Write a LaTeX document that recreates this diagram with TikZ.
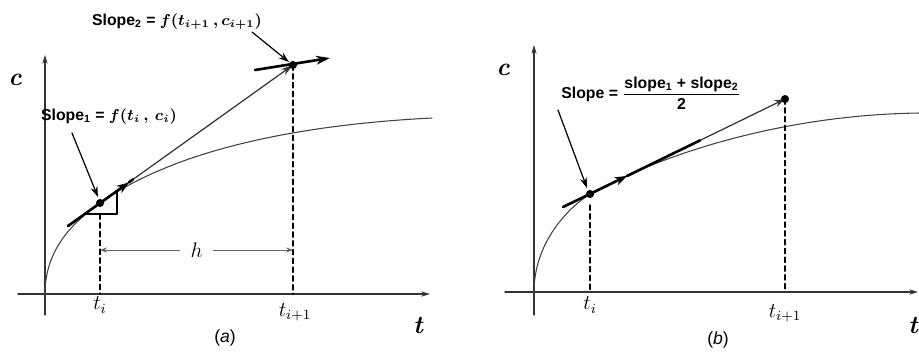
\documentclass[tikz,border=0pt]{standalone}
\usepackage{amsmath}
\usepackage{fontspec}
\setsansfont{Liberation Sans}
\usetikzlibrary{arrows.meta}
\tikzset{
  every picture/.style={line join=round, line cap=round, >=Stealth},
  axis/.style={line width=0.6pt, draw=black!80, -{Stealth[length=5pt,width=3pt]}},
  curve/.style={line width=0.6pt, draw=black!75},
  tangent/.style={line width=1.5pt},
  secant/.style={line width=0.7pt, draw=black!80},
  guide/.style={line width=0.8pt, dash pattern=on 3pt off 2pt},
  dimline/.style={line width=0.5pt, draw=black!60, {Stealth[length=4pt,width=3pt]}-{Stealth[length=4pt,width=3pt]}},
  leader/.style={line width=0.7pt, -{Stealth[length=6pt,width=4pt]}},
  axislabel/.style={font=\Large\bfseries\itshape},
  ticklabel/.style={font=\large},
  slopelabel/.style={font=\small\sffamily\bfseries\boldmath},
  caption/.style={font=\normalsize\sffamily},
}
\begin{document}
\begin{tikzpicture}[x=0.02cm, y=-0.02cm]
\useasboundingbox (0,0) rectangle (919,353);
% (a) slope at the start and at the predicted end point
\coordinate (Oa) at (45,294);
\coordinate (Pa) at (100,203);
\coordinate (Qa) at (293,65);
\draw[axis] (45,315) -- (45,55);
\draw[axis] (18,294) -- (430,294);
\draw[curve] (Oa) .. controls (45,250) and (72,223) .. (Pa) .. controls (180,146) and (312,124) .. (432,118);
\draw[guide] (100,214) -- (100,294);
\draw[guide] (Qa) -- (293,294);
\draw[dimline] (100,250) -- node[fill=white, inner xsep=6pt, ticklabel] (ha) {$h$} (293,250);
\draw[line width=0.6pt] (86,214) -- (117,214) -- (117,191);
\draw[secant, -{Stealth[length=7pt,width=4pt]}] (Pa) -- (Qa);
\coordinate (Ta1) at (68,226);
\coordinate (Ma) at (129,182.4);
\coordinate (Ta2) at (133,179.4);
\draw[tangent, -{Stealth[length=7pt,width=5pt]}] (Ta1) -- (Ma);
\draw[tangent] (Ma) -- (Ta2);
\coordinate (Sa1) at (255,70);
\coordinate (Sa2) at (330,58);
\draw[tangent, -{Stealth[length=8pt,width=5pt]}] (Sa1) -- (Sa2);
\fill (Pa) circle[radius=2.3pt];
\fill (Qa) circle[radius=2.3pt];
\node[slopelabel] (s1) at (109,117) {Slope\textsubscript{1} = $f(t_i\,,\,c_i)$};
\node[slopelabel] (s2) at (177,22) {Slope\textsubscript{2} = $f(t_{i+1}\,,c_{i+1})$};
\coordinate (l1) at (72,133);
\coordinate (e1) at (98,197);
\coordinate (l2) at (252,32);
\coordinate (e2) at (289,62);
\draw[leader] (l1) -- (e1);
\draw[leader] (l2) -- (e2);
\node[axislabel] (ca) at (15,80) {c};
\node[axislabel] (ta) at (418,325) {t};
\node[ticklabel] (tia) at (100,305) {$t_i$};
\node[ticklabel] (tja) at (295,312) {$t_{i+1}$};
\node[caption] (capa) at (225,338) {(\textit{a})};
% (b) average of the two slopes
\coordinate (Ob) at (534,292);
\coordinate (Pb) at (590,194);
\coordinate (Qb) at (785,99);
\draw[axis] (534,315) -- (534,45);
\draw[axis] (505,292) -- (918,292);
\draw[curve] (Ob) .. controls (534,245) and (565,210) .. (Pb) .. controls (660,155) and (780,115) .. (919,113);
\draw[guide] (590,205) -- (590,292);
\draw[guide] (Qb) -- (785,292);
\draw[secant, -{Stealth[length=6pt,width=4pt]}] (Pb) -- (Qb);
\coordinate (Tb1) at (563,207);
\coordinate (Mb) at (627,176);
\coordinate (Tb2) at (700,140.4);
\draw[tangent, -{Stealth[length=7pt,width=5pt]}] (Tb1) -- (Mb);
\draw[tangent] (Mb) -- (Tb2);
\fill (Pb) circle[radius=2.3pt];
\fill (Qb) circle[radius=2.3pt];
\node[slopelabel] (sb) at (651,93) {Slope = $\dfrac{\text{slope\textsubscript{1} + slope\textsubscript{2}}}{\text{2}}$};
\coordinate (lb) at (558,110);
\coordinate (eb) at (587,188);
\draw[leader] (lb) -- (eb);
\node[axislabel] (cb) at (503,70) {c};
\node[axislabel] (tb) at (913,325) {t};
\node[ticklabel] (tib) at (590,305) {$t_i$};
\node[ticklabel] (tjb) at (785,313) {$t_{i+1}$};
\node[caption] (capb) at (718,340) {(\textit{b})};
\end{tikzpicture}
\end{document}
